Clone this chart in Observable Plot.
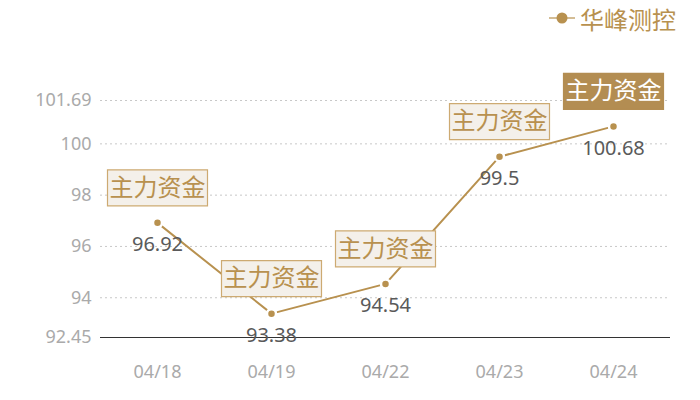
<!DOCTYPE html>
<html>
<head>
<meta charset="utf-8">
<script src="https://cdn.jsdelivr.net/npm/d3@7"></script>
<script src="https://cdn.jsdelivr.net/npm/@observablehq/plot@0.6"></script>
<style>
  html, body { margin: 0; padding: 0; background: #fff; }
  #wrap { width: 700px; height: 400px; overflow: hidden; font-family: "Noto Sans", "Noto Sans CJK SC", sans-serif; }
  #legend { height: 36px; display: flex; justify-content: flex-end; align-items: center; padding-right: 24px; box-sizing: border-box; color: #b8914f; font-size: 24px; font-family: "Noto Sans CJK SC", sans-serif; }
  #legend svg { margin-right: 5px; }
</style>
</head>
<body>
<div id="wrap">
  <div id="legend"></div>
  <div id="chart"></div>
</div>
<script>
const dates = ["04/18", "04/19", "04/22", "04/23", "04/24"];
const values = [96.92, 93.38, 94.54, 99.5, 100.68];
const yTicks = [92.45, 94, 96, 98, 100, 101.69];
const gridTicks = [94, 96, 98, 100, 101.69];
const baseTick = 92.45;
const seriesName = "华峰测控";
const boxLabel = "主力资金";
const highlightDate = "04/24";

const gold = "#b8914f";
const data = dates.map((d, i) => ({date: d, value: values[i], hi: d === highlightDate}));

// legend
const lg = document.getElementById("legend");
lg.innerHTML = `<svg width="26" height="12"><line x1="0" x2="26" y1="6" y2="6" stroke="${gold}" stroke-width="1.2"/><circle cx="13" cy="6" r="5.5" fill="${gold}"/></svg><span>${seriesName}</span>`;

const boxSymbol = { draw(ctx) { ctx.rect(-50, -18, 100, 36); } };

const chart = Plot.plot({
  width: 700,
  height: 364,
  marginLeft: 100,
  marginRight: 30,
  marginTop: 64,
  marginBottom: 63,
  style: { fontFamily: '"Noto Sans", "Noto Sans CJK SC", sans-serif', background: "transparent" },
  x: { type: "point", domain: dates, padding: 0.5, label: null },
  y: { domain: [92.45, 101.69], label: null },
  marks: [
    Plot.ruleY(gridTicks, { stroke: "#c8c8c8", strokeDasharray: "2,3", strokeWidth: 1 }),
    Plot.ruleY([baseTick], { stroke: "#333", strokeWidth: 1.2 }),
    Plot.axisY(yTicks, { tickSize: 0, tickPadding: 9, tickFormat: d => String(d), fontSize: 18, fill: "#aaa", label: null }),
    Plot.axisX({ tickSize: 0, tickPadding: 28, fontSize: 18, fill: "#aaa", label: null }),
    Plot.line(data, { x: "date", y: "value", stroke: gold, strokeWidth: 2 }),
    Plot.dot(data, { x: "date", y: "value", r: 4.5, fill: gold, stroke: "#fff", strokeWidth: 2.5 }),
    Plot.text(data, { x: "date", y: "value", text: d => String(d.value), dy: 22, fontSize: 20, fill: "#5a5a5a" }),
    Plot.dot(data, { x: "date", y: "value", symbol: boxSymbol, dy: -35, fill: d => d.hi ? "#b38d52" : "#f4f0ea", stroke: d => d.hi ? "#b38d52" : "#cdaa72", strokeWidth: 1.2 }),
    Plot.text(data, { x: "date", y: "value", text: () => boxLabel, dy: -35, fontSize: 24, fill: d => d.hi ? "#fff" : gold, fontFamily: '"Noto Sans CJK SC", sans-serif' })
  ]
});
document.getElementById("chart").appendChild(chart);
</script>
</body>
</html>
